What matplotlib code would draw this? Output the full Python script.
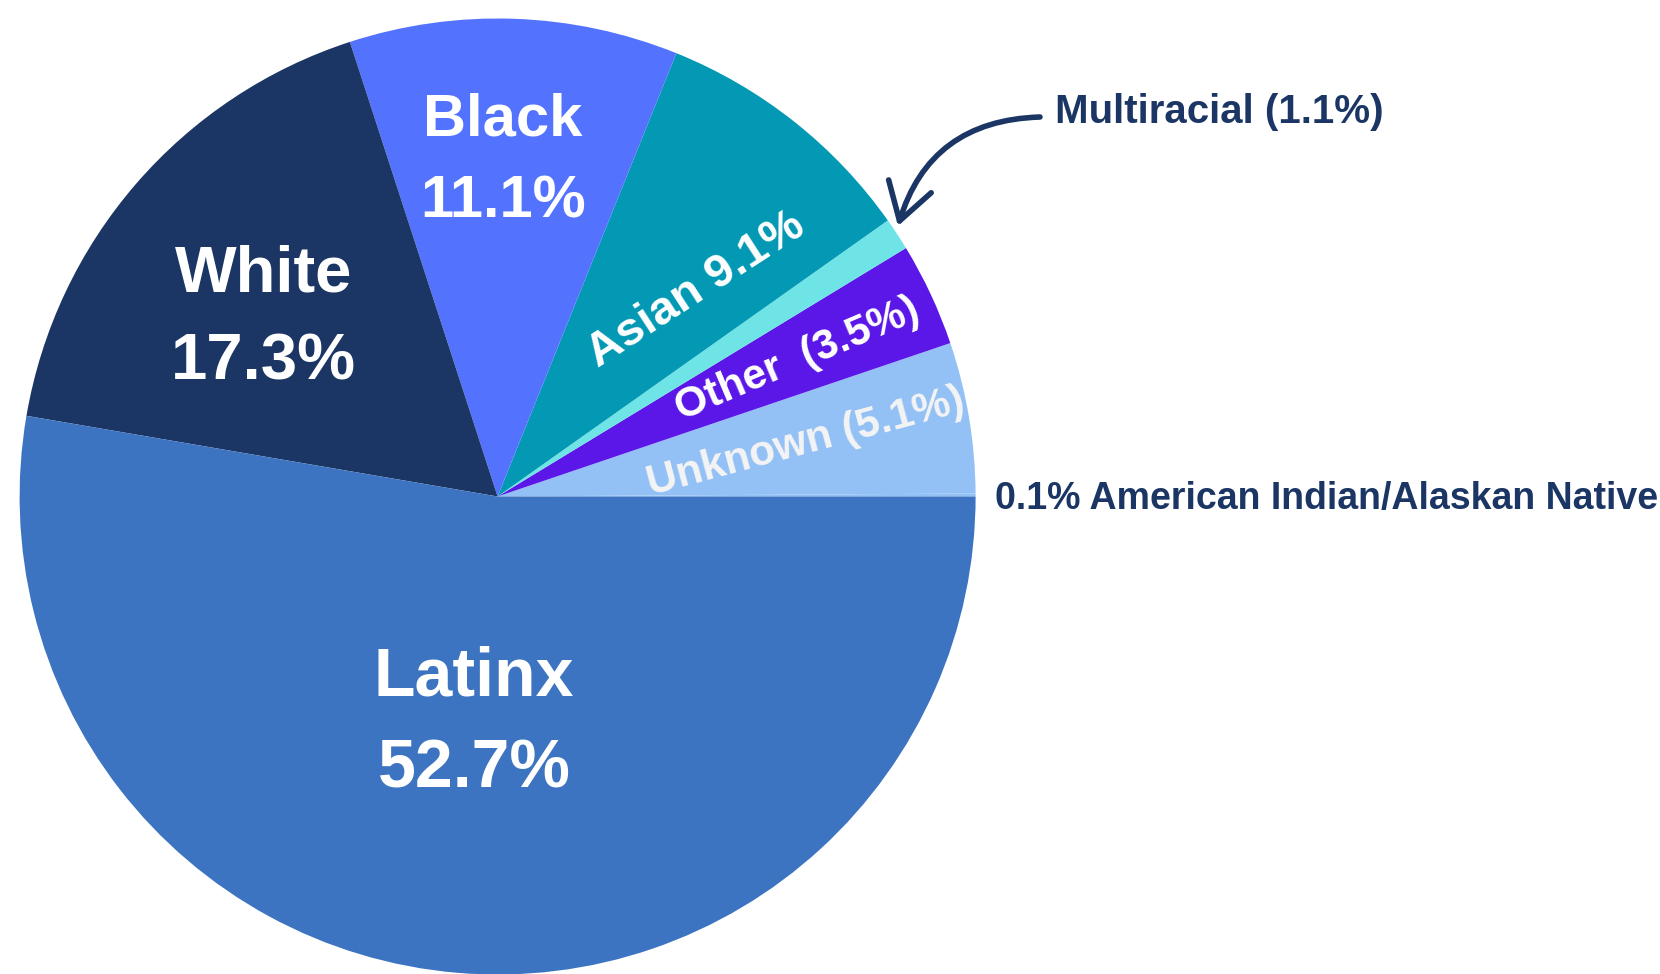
import matplotlib.pyplot as plt
from matplotlib.patches import FancyArrowPatch

# --- data ---
groups = ['American Indian/Alaskan Native', 'Unknown', 'Other', 'Multiracial',
          'Asian', 'Black', 'White', 'Latinx']
shares = [0.1, 5.1, 3.5, 1.1, 9.1, 11.1, 17.3, 52.7]
colors = ['#93C1F6', '#93C1F6', '#5B17E8', '#6EE4E7',
          '#0399B4', '#5373FF', '#1B3664', '#3D74C1']

NAVY = '#1B3664'
W, H = 1660, 974


def y(v):
    # image pixel row -> data y (axes run bottom-up)
    return H - v


plt.rcParams['font.family'] = ['Liberation Sans', 'DejaVu Sans']
plt.rcParams['font.weight'] = 'bold'

fig = plt.figure(figsize=(W / 100, H / 100), dpi=100)
ax = fig.add_axes([0, 0, 1, 1])

ax.pie(shares, colors=colors, startangle=0, counterclock=True,
       center=(497.6, y(496.5)), radius=478,
       wedgeprops=dict(linewidth=0))
ax.set_xlim(0, W)
ax.set_ylim(0, H)
ax.set_aspect('equal')
ax.axis('off')

# --- big labels inside the slices ---
ax.text(503, y(135.5), 'Black', color='white', fontsize=43, ha='center', va='baseline')
ax.text(503, y(217), '11.1%', color='white', fontsize=43, ha='center', va='baseline')
ax.text(263.6, y(291), 'White', color='white', fontsize=47, ha='center', va='baseline')
ax.text(263.6, y(379), '17.3%', color='white', fontsize=47, ha='center', va='baseline')
ax.text(474, y(695.5), 'Latinx', color='white', fontsize=49, ha='center', va='baseline')
ax.text(474, y(787.5), '52.7%', color='white', fontsize=49, ha='center', va='baseline')

# --- rotated labels in the thin slices ---
ax.text(696, y(290), 'Asian 9.1%', color='white', fontsize=34, rotation=33,
        rotation_mode='anchor', ha='center', va='center')
ax.text(797, y(360), 'Other  (3.5%)', color='white', fontsize=30.5, rotation=23,
        rotation_mode='anchor', ha='center', va='center')
ax.text(806, y(442.5), 'Unknown (5.1%)', color='#F4F4F4', fontsize=30.5, rotation=15,
        rotation_mode='anchor', ha='center', va='center')

# --- outside labels ---
ax.text(1055, y(123), 'Multiracial (1.1%)', color=NAVY, fontsize=29,
        ha='left', va='baseline')
ax.text(995, y(509), '0.1% American Indian/Alaskan Native', color=NAVY,
        fontsize=27, ha='left', va='baseline')

arrow = FancyArrowPatch((1040, y(117)), (898, y(226)),
                        connectionstyle='arc3,rad=0.36',
                        arrowstyle='->,head_length=1.3,head_width=0.8',
                        mutation_scale=20, color=NAVY, linewidth=4,
                        shrinkA=0, shrinkB=0, capstyle='round', joinstyle='round')
ax.add_patch(arrow)

fig.savefig('out.png', dpi=100)
